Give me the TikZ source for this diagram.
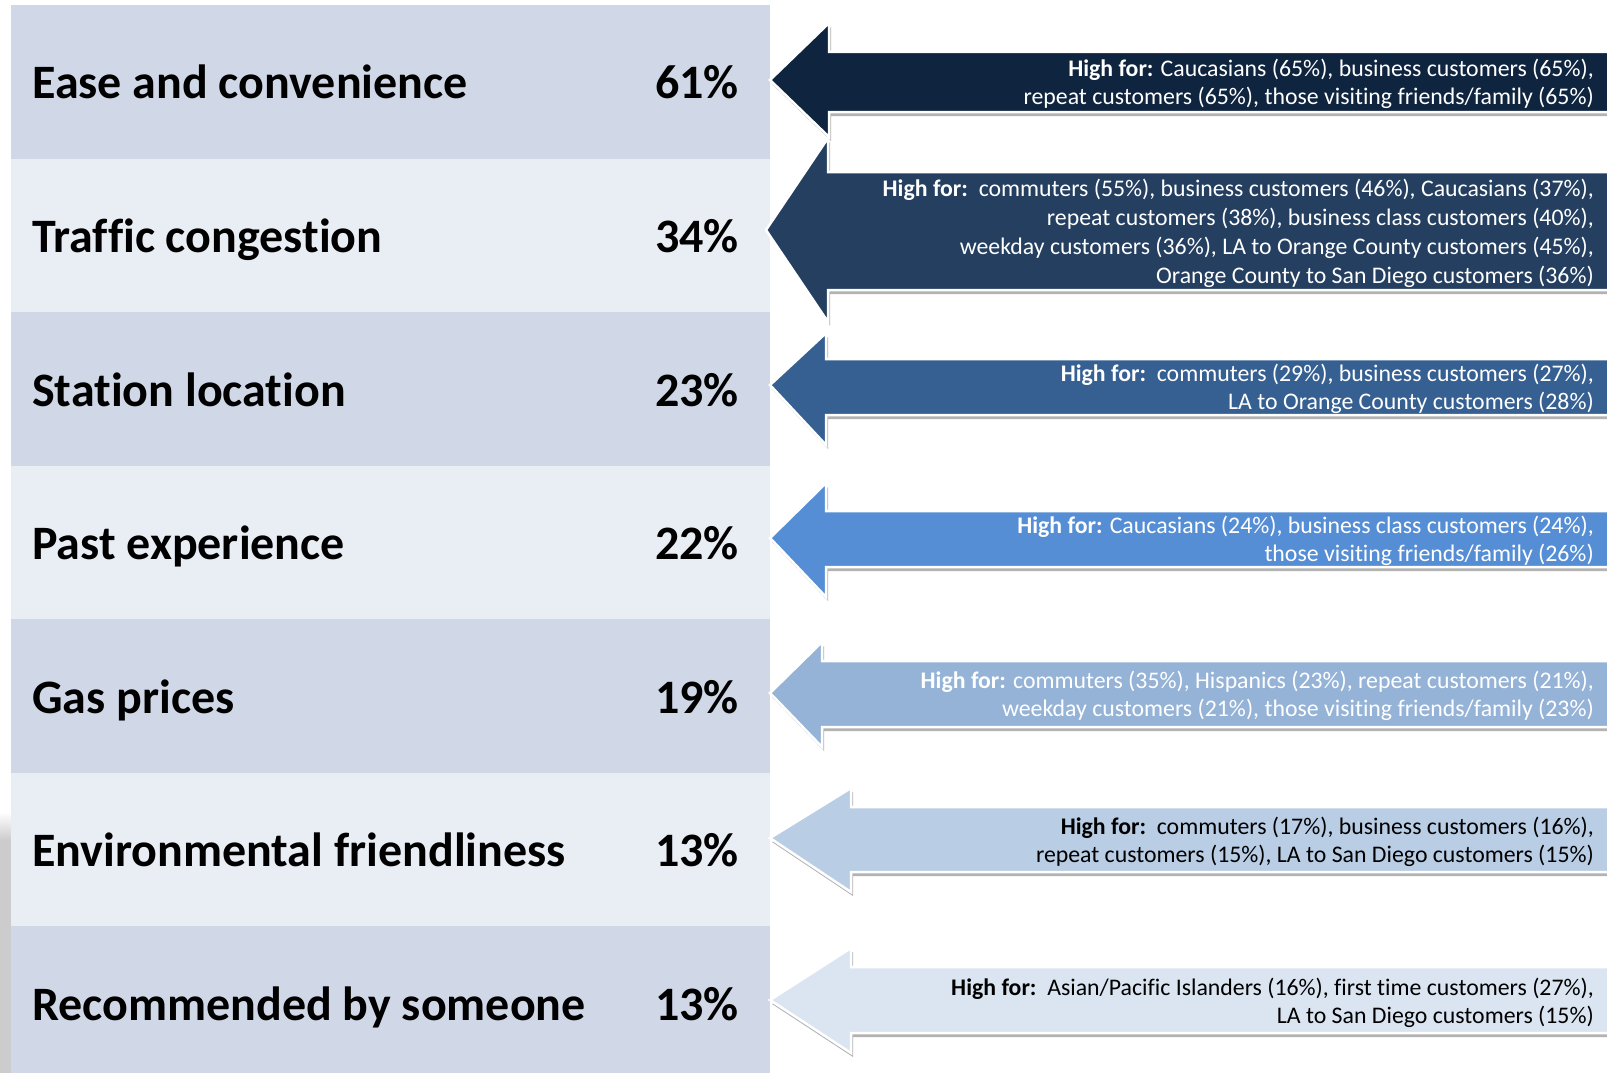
\documentclass[tikz,border=0pt]{standalone}
\usepackage{fontspec}
\setmainfont{Carlito}[Ligatures=NoCommon]
\usetikzlibrary{shadows}

\definecolor{rowA}{HTML}{D0D8E8}
\definecolor{rowB}{HTML}{E9EDF4}
\definecolor{arA}{HTML}{0F243E}
\definecolor{arB}{HTML}{243F60}
\definecolor{arC}{HTML}{366092}
\definecolor{arD}{HTML}{558ED5}
\definecolor{arE}{HTML}{95B3D7}
\definecolor{arF}{HTML}{B9CDE5}
\definecolor{arG}{HTML}{DBE5F1}

\tikzset{
  label/.style={anchor=base west, font=\fontsize{48}{56}\selectfont\bfseries, inner sep=0pt},
  pct/.style={anchor=base east, font=\fontsize{48}{56}\selectfont\bfseries, inner sep=0pt},
  note/.style={anchor=east, align=right, inner sep=0pt, font=\fontsize{23.8}{28.4}\selectfont},
  arrowbody/.style={draw=white, line width=2.5pt, line join=miter,
    drop shadow={shadow xshift=2pt, shadow yshift=-4pt, fill=black, opacity=0.3}},
}

% left-pointing block arrow: tip x, tip y, back x, head top, head bottom, shaft top, shaft bottom, colour
\newcommand\blockarrow[8]{%
  \path[arrowbody, fill=#8] (#1,#2) -- (#3,#4) -- (#3,#6) -- (1615,#6) -- (1615,#7)
    -- (#3,#7) -- (#3,#5) -- cycle;}

\begin{document}
\begin{tikzpicture}[x=1pt, y=-1pt]
\useasboundingbox (0,0) rectangle (1607,1073);
\clip (0,0) rectangle (1607,1073);

% faint shadow strip beside the lower rows
\shade[top color=white, bottom color=black!20] (0,812) rectangle (11,840);
\fill[black!20] (0,840) rectangle (11,1073);

% table rows
\foreach \i/\c in {0/rowA,1/rowB,2/rowA,3/rowB,4/rowA,5/rowB,6/rowA}
  \fill[\c] (11,{5+153.5*\i}) rectangle (770,{5+153.5*(\i+1)});

% row labels and percentages (baselines)
\node[label] (l1) at (32,99)  {Ease and convenience};
\node[label] (l2) at (32,252) {Traffic congestion};
\node[label] (l3) at (32,406) {Station location};
\node[label] (l4) at (32,559) {Past experience};
\node[label] (l5) at (32,713) {Gas prices};
\node[label] (l6) at (32,866) {Environmental friendliness};
\node[label] (l7) at (32,1020){Recommended by someone};

\node[pct] (p1) at (739,99)  {61\%};
\node[pct] (p2) at (739,252) {34\%};
\node[pct] (p3) at (739,406) {23\%};
\node[pct] (p4) at (739,559) {22\%};
\node[pct] (p5) at (739,713) {19\%};
\node[pct] (p6) at (739,866) {13\%};
\node[pct] (p7) at (739,1020){13\%};

% block arrows
\blockarrow{770}{80}{829}{23}{137}{52}{112}{arA}
\blockarrow{766}{230}{828}{138}{322}{172}{290}{arB}
\blockarrow{770}{385}{826}{333}{445}{359}{415}{arC}
\blockarrow{770}{538}{826}{483}{597}{511}{567}{arD}
\blockarrow{770}{693}{822}{642}{747}{661}{727}{arE}
\blockarrow{770}{838}{851}{788}{892}{807}{872}{arF}
\blockarrow{770}{1000}{851}{948}{1053}{967}{1033}{arG}

% arrow notes
\node[note, text=white] (n1) at (1594,84)
  {\textbf{High for:} Caucasians (65\%), business customers (65\%),\\
   repeat customers (65\%), those visiting friends/family (65\%)};
\node[note, text=white, font=\fontsize{23.8}{29.1}\selectfont] (n2) at (1594,233)
  {\textbf{High for:}\ \ commuters (55\%), business customers (46\%), Caucasians (37\%),\\
   repeat customers (38\%), business class customers (40\%),\\
   weekday customers (36\%), LA to Orange County customers (45\%),\\
   Orange County to San Diego customers (36\%)};
\node[note, text=white] (n3) at (1594,389)
  {\textbf{High for:}\ \ commuters (29\%), business customers (27\%),\\
   LA to Orange County customers (28\%)};
\node[note, text=white] (n4) at (1594,541)
  {\textbf{High for:} Caucasians (24\%), business class customers (24\%),\\
   those visiting friends/family (26\%)};
\node[note, text=white] (n5) at (1594,696)
  {\textbf{High for:} commuters (35\%), Hispanics (23\%), repeat customers (21\%),\\
   weekday customers (21\%), those visiting friends/family (23\%)};
\node[note, text=black] (n6) at (1594,842)
  {\textbf{High for:}\ \ commuters (17\%), business customers (16\%),\\
   repeat customers (15\%), LA to San Diego customers (15\%)};
\node[note, text=black] (n7) at (1594,1003)
  {\textbf{High for:}\ \ Asian/Pacific Islanders (16\%), first time customers (27\%),\\
   LA to San Diego customers (15\%)};
\end{tikzpicture}
\end{document}
